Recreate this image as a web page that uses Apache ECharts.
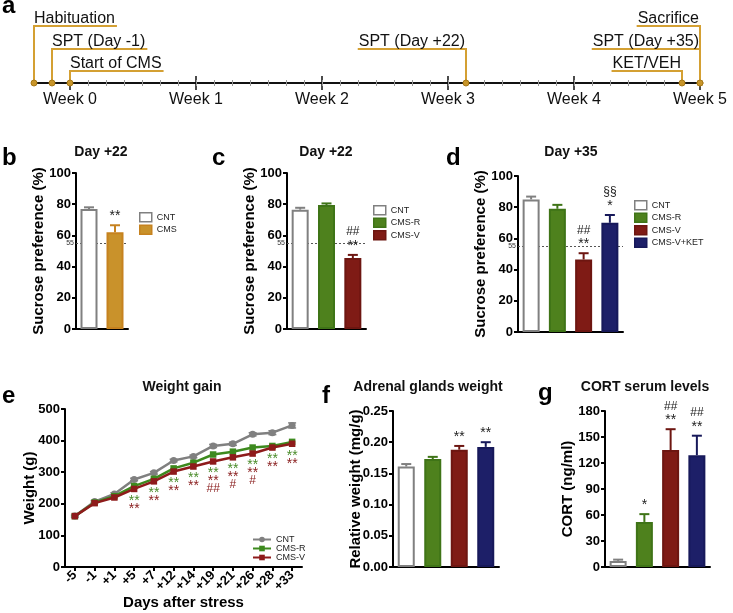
<!DOCTYPE html>
<html><head><meta charset="utf-8">
<script src="https://cdn.jsdelivr.net/npm/echarts@6/dist/echarts.min.js"></script>
<style>html,body{margin:0;padding:0;background:#fff}#c{width:733px;height:613px}</style>
</head><body><div id="c"></div>
<script>
// ---------------- data ----------------
const weekDays = [0, 7, 14, 21, 28, 35];
const weekLabels = ['Week 0', 'Week 1', 'Week 2', 'Week 3', 'Week 4', 'Week 5'];
const eventNames = ['Habituation', 'SPT (Day -1)', 'Start of CMS', 'SPT (Day +22)', 'Sacrifice', 'SPT (Day +35)', 'KET/VEH'];
const eventDays = [-2, -1, 0, 22, 35, 35, 34];
const eventLevels = [3, 2, 1, 2, 3, 2, 1];
const eventSides = ['right', 'right', 'right', 'left', 'left', 'left', 'left'];

const bCats = ['CNT', 'CMS'];
const bVals = [77, 62];
const bErr = [1, 4.5];
const bNotes = ['', '**'];

const cCats = ['CNT', 'CMS-R', 'CMS-V'];
const cVals = [76.5, 79.5, 45.5];
const cErr = [1.2, 1, 2];
const cNotes = ['', '', '##\n**'];

const dCats = ['CNT', 'CMS-R', 'CMS-V', 'CMS-V+KET'];
const dVals = [85, 79, 46.5, 70];
const dErr = [1.8, 2.5, 4, 5];
const dNotes = ['', '', '##\n**', '§§\n*'];

const eDays = ['-5', '-1', '+1', '+5', '+7', '+12', '+14', '+19', '+21', '+26', '+28', '+33'];
const eCNT = [161, 207, 231, 277, 298, 337, 350, 383, 390, 420, 425, 448];
const eCNTerr = [3, 3, 4, 4, 4, 4, 4, 5, 5, 5, 6, 8];
const eCMSR = [161, 204, 224, 256, 279, 312, 330, 356, 365, 378, 383, 396];
const eCMSV = [161, 202, 220, 247, 271, 302, 318, 334, 347, 359, 378, 390];
const eNoteR = ['', '', '', '**', '**', '**', '**', '**', '**', '**', '**', '**'];
const eNoteV = ['', '', '', '**', '**', '**', '**', '**', '**', '**', '**', '**'];
const eNoteH = ['', '', '', '', '', '', '', '##', '#', '#', '', ''];

const fCats = ['CNT', 'CMS-R', 'CMS-V', 'CMS-V+KET'];
const fVals = [0.161, 0.173, 0.188, 0.1925];
const fErr = [0.004, 0.0035, 0.006, 0.0075];
const fNotes = ['', '', '**', '**'];

const gCats = ['CNT', 'CMS-R', 'CMS-V', 'CMS-V+KET'];
const gVals = [7, 52, 135, 129];
const gErr = [1.5, 9, 24, 22.5];
const gNotes = ['', '*', '##\n**', '##\n**'];

// ---------------- styles ----------------
const FONT = '"Liberation Sans", Arial, Helvetica, sans-serif';
const GOLD = '#d4a033';
const STYLE = {
  'CNT': { fill: '#ffffff', border: '#808080' },
  'CMS': { fill: '#c9922b', border: '#c6821f' },
  'CMS-R': { fill: '#4e811d', border: '#3f7417' },
  'CMS-V': { fill: '#7f1b15', border: '#6d1611' },
  'CMS-V+KET': { fill: '#1d1f68', border: '#17195a' }
};
const LINE_COL = { 'CNT': '#808080', 'CMS-R': '#3d8a1e', 'CMS-V': '#8e1b1b' };
const NOTE_GREEN = '#4a8c2a', NOTE_RED = '#8b2121';
const ROW_OFF = { 1: 12, 2: 34, 3: 57 };
const TL_FONT = '16px ' + FONT;

const _ctx = document.createElement('canvas').getContext('2d');
function measure(t, f) { _ctx.font = f; return _ctx.measureText(t).width; }

// ---------------- timeline (a) ----------------
const grids = [{ left: 34, top: 26, width: 666, height: 57, outerBoundsMode: 'none' }];
const tlBase = { gridIndex: 0, type: 'value', min: -2, max: 35, position: 'bottom', splitLine: { show: false } };
const xAxes = [
  Object.assign({}, tlBase, {
    axisLine: { show: true, onZero: false, lineStyle: { color: '#111', width: 2 } },
    axisTick: { show: true, customValues: weekDays, length: 7, lineStyle: { color: '#111', width: 1.5 } },
    axisLabel: { show: true, customValues: weekDays, formatter: v => weekLabels[weekDays.indexOf(v)], fontSize: 16, color: '#111', margin: 9 }
  }),
  Object.assign({}, tlBase, {
    axisLine: { show: false, onZero: false },
    axisTick: { show: true, inside: true, customValues: weekDays, length: 7, lineStyle: { color: '#111', width: 1.5 } },
    axisLabel: { show: false }
  }),
  Object.assign({}, tlBase, {
    interval: 1,
    axisLine: { show: false, onZero: false },
    axisTick: { show: true, length: 3, lineStyle: { color: '#999', width: 1 } },
    axisLabel: { show: false }
  }),
  Object.assign({}, tlBase, {
    interval: 1,
    axisLine: { show: false, onZero: false },
    axisTick: { show: true, inside: true, length: 3, lineStyle: { color: '#999', width: 1 } },
    axisLabel: { show: false }
  })
];
const yAxes = [{ gridIndex: 0, type: 'value', min: 0, max: 1, show: false }];
const series = [{
  type: 'custom', xAxisIndex: 0, yAxisIndex: 0, silent: true, z: 5,
  data: eventDays.map((d, i) => [d, 0, i]),
  encode: { x: 0, y: 1 },
  renderItem: function (params, api) {
    const i = api.value(2);
    const p = api.coord([api.value(0), 0]);
    const yl = p[1] - ROW_OFF[eventLevels[i]];
    const w = measure(eventNames[i], TL_FONT) + 2;
    const right = eventSides[i] === 'right';
    const x0 = p[0], x1 = right ? x0 + w : x0 - w;
    return {
      type: 'group', children: [
        { type: 'polyline', shape: { points: [[x1, yl], [x0, yl], [x0, p[1]]] }, style: { stroke: GOLD, lineWidth: 2, fill: null } },
        { type: 'text', style: { text: eventNames[i], x: right ? x0 : x0 - 1, y: yl + 1, align: right ? 'left' : 'right', textAlign: right ? 'left' : 'right', verticalAlign: 'bottom', textVerticalAlign: 'bottom', font: TL_FONT, fill: '#111' } },
        { type: 'circle', shape: { cx: x0, cy: p[1], r: 3 }, style: { fill: '#c8952a', stroke: '#a87a18', lineWidth: 1 } }
      ]
    };
  }
}];

// ---------------- bar panels ----------------
function noteTexts(note, x, yBase, color) {
  const lines = note.split('\n').reverse();
  return lines.map((ln, idx) => {
    const isStar = ln.indexOf('*') >= 0;
    const y = yBase - idx * 11 + (isStar ? 3 : 0);
    return { type: 'text', style: { text: ln, x: x, y: y, align: 'center', textAlign: 'center', verticalAlign: 'middle', textVerticalAlign: 'middle', font: (isStar ? '14px ' : '12px ') + FONT, fill: color } };
  });
}
function makeErr(cats, notes, cap) {
  return function (params, api) {
    const k = api.value(0), v = api.value(1), e = api.value(2);
    const a = api.coord([k, v]), b = api.coord([k, v + e]);
    const col = STYLE[cats[k]].border;
    let ch = [
      { type: 'line', shape: { x1: a[0], y1: a[1], x2: b[0], y2: b[1] }, style: { stroke: col, lineWidth: 2 } },
      { type: 'line', shape: { x1: b[0] - cap, y1: b[1], x2: b[0] + cap, y2: b[1] }, style: { stroke: col, lineWidth: 2 } }
    ];
    if (notes[k]) ch = ch.concat(noteTexts(notes[k], b[0], b[1] - 12, '#222'));
    return { type: 'group', children: ch };
  };
}

const legends = [];
const panels = [
  { key: 'b', cats: bCats, vals: bVals, errs: bErr, notes: bNotes, grid: { left: 76, top: 173, width: 52, height: 156 }, max: 100, interval: 20, name: 'Sucrose preference (%)', ref: 55, legend: { left: 139, top: 212 }, dec: 0 },
  { key: 'c', cats: cCats, vals: cVals, errs: cErr, notes: cNotes, grid: { left: 287, top: 173, width: 79, height: 156 }, max: 100, interval: 20, name: 'Sucrose preference (%)', ref: 55, legend: { left: 373, top: 205 }, dec: 0 },
  { key: 'd', cats: dCats, vals: dVals, errs: dErr, notes: dNotes, grid: { left: 518, top: 176, width: 105, height: 156 }, max: 100, interval: 20, name: 'Sucrose preference (%)', ref: 55, legend: { left: 634, top: 200 }, dec: 0 },
  { key: 'f', cats: fCats, vals: fVals, errs: fErr, notes: fNotes, grid: { left: 393, top: 411, width: 106, height: 156 }, max: 0.25, interval: 0.05, name: 'Relative weight (mg/g)', ref: null, legend: null, dec: 2 },
  { key: 'g', cats: gCats, vals: gVals, errs: gErr, notes: gNotes, grid: { left: 605, top: 411, width: 105, height: 156 }, max: 180, interval: 30, name: 'CORT (ng/ml)', ref: null, legend: null, dec: 0 }
];

function yAxisFor(gi, max, interval, name, dec, nameGap) {
  return {
    gridIndex: gi, type: 'value', min: 0, max: max, interval: interval,
    axisLine: { show: true, lineStyle: { color: '#000', width: 2 } },
    axisTick: { show: true, length: 4, lineStyle: { color: '#000', width: 2 } },
    axisLabel: { fontFamily: FONT, fontWeight: 'bold', fontSize: 13, color: '#000', margin: 5, formatter: v => v.toFixed(dec) },
    splitLine: { show: false },
    name: name, nameLocation: 'middle', nameGap: nameGap, nameMoveOverlap: false,
    nameTextStyle: { fontFamily: FONT, fontWeight: 'bold', fontSize: 15, color: '#000' }
  };
}

panels.forEach(p => {
  const gi = grids.length;
  grids.push(Object.assign({ outerBoundsMode: 'none' }, p.grid));
  const xi = xAxes.length;
  xAxes.push({
    gridIndex: gi, type: 'category', data: p.cats,
    axisLine: { show: true, lineStyle: { color: '#000', width: 2 } },
    axisTick: { show: false }, axisLabel: { show: false }
  });
  const yi = yAxes.length;
  yAxes.push(yAxisFor(gi, p.max, p.interval, p.name, p.dec, 30));
  p.cats.forEach((c, j) => {
    series.push({
      type: 'bar', name: c + '_' + p.key, xAxisIndex: xi, yAxisIndex: yi, stack: 'st' + p.key,
      barWidth: 17, silent: true, z: 3,
      data: p.cats.map((cc, k) => k === j ? p.vals[j] : '-'),
      itemStyle: { color: STYLE[c].fill, borderColor: STYLE[c].border, borderWidth: 2 }
    });
  });
  series.push({
    type: 'custom', xAxisIndex: xi, yAxisIndex: yi, silent: true, z: 4,
    data: p.vals.map((v, k) => [k, v, p.errs[k]]), encode: { x: 0, y: 1 },
    renderItem: makeErr(p.cats, p.notes, 5)
  });
  if (p.ref != null) {
    series.push({
      type: 'line', xAxisIndex: xi, yAxisIndex: yi, data: [], silent: true, z: 1,
      markLine: {
        z: 1, silent: true, symbol: ['none', 'none'], animation: false,
        lineStyle: { color: '#555', width: 1, type: [2, 2] },
        label: { show: true, position: 'start', formatter: String(p.ref), fontSize: 7, color: '#333', distance: 2 },
        data: [{ yAxis: p.ref }]
      }
    });
  }
  if (p.legend) {
    legends.push({
      left: p.legend.left, top: p.legend.top, padding: 0, orient: 'vertical', icon: 'rect',
      itemWidth: 12, itemHeight: 9, itemGap: 2, selectedMode: false,
      textStyle: { fontFamily: FONT, fontSize: 9, color: '#222' },
      formatter: n => n.split('_')[0],
      data: p.cats.map(c => ({ name: c + '_' + p.key, itemStyle: { color: STYLE[c].fill, borderColor: STYLE[c].border, borderWidth: 1.5 } }))
    });
  }
});

// ---------------- weight panel (e) ----------------
(function () {
  const gi = grids.length;
  grids.push({ left: 65, top: 409, width: 237, height: 158, outerBoundsMode: 'none' });
  const xi = xAxes.length;
  xAxes.push({
    gridIndex: gi, type: 'category', data: eDays, boundaryGap: true,
    axisLine: { show: true, lineStyle: { color: '#000', width: 2 } },
    axisTick: { show: true, alignWithLabel: true, length: 4, lineStyle: { color: '#000', width: 2 } },
    axisLabel: { interval: 0, rotate: 45, fontFamily: FONT, fontWeight: 'bold', fontSize: 13, color: '#000', margin: 6 },
    name: 'Days after stress', nameLocation: 'middle', nameGap: 28, nameMoveOverlap: false,
    nameTextStyle: { fontFamily: FONT, fontWeight: 'bold', fontSize: 15, color: '#000' }
  });
  const yi = yAxes.length;
  yAxes.push(yAxisFor(gi, 500, 100, 'Weight (g)', 0, 28));
  const lines = [['CNT', eCNT, 'circle'], ['CMS-R', eCMSR, 'rect'], ['CMS-V', eCMSV, 'rect']];
  series.push({
    type: 'custom', xAxisIndex: xi, yAxisIndex: yi, silent: true, z: 2,
    data: eCNT.map((v, k) => [k, v, eCNTerr[k]]), encode: { x: 0, y: 1 },
    renderItem: function (params, api) {
      const k = api.value(0), v = api.value(1), e = api.value(2);
      const lo = api.coord([k, v - e]), hi = api.coord([k, v + e]);
      const col = LINE_COL['CNT'];
      return { type: 'group', children: [
        { type: 'line', shape: { x1: lo[0], y1: lo[1], x2: hi[0], y2: hi[1] }, style: { stroke: col, lineWidth: 1.5 } },
        { type: 'line', shape: { x1: hi[0] - 4, y1: hi[1], x2: hi[0] + 4, y2: hi[1] }, style: { stroke: col, lineWidth: 1.5 } },
        { type: 'line', shape: { x1: lo[0] - 4, y1: lo[1], x2: lo[0] + 4, y2: lo[1] }, style: { stroke: col, lineWidth: 1.5 } }
      ] };
    }
  });
  lines.forEach((l, idx) => {
    series.push({
      type: 'line', name: l[0] + '_e', xAxisIndex: xi, yAxisIndex: yi, data: l[1],
      symbol: l[2], symbolSize: l[2] === 'circle' ? 7 : 6.5, showSymbol: true, silent: true, z: 3 + idx,
      lineStyle: { color: LINE_COL[l[0]], width: 2.5 }, itemStyle: { color: LINE_COL[l[0]] }
    });
  });
  series.push({
    type: 'custom', xAxisIndex: xi, yAxisIndex: yi, silent: true, z: 8,
    data: eCMSV.map((v, k) => [k, v]), encode: { x: 0, y: 1 },
    renderItem: function (params, api) {
      const k = api.value(0);
      const p = api.coord([k, api.value(1)]);
      const rows = [[eNoteR[k], NOTE_GREEN, 12, 14], [eNoteV[k], NOTE_RED, 20, 14], [eNoteH[k], NOTE_RED, 27, 12]];
      const ch = [];
      rows.forEach(r => {
        if (r[0]) ch.push({ type: 'text', style: { text: r[0], x: p[0], y: p[1] + r[2], align: 'center', textAlign: 'center', verticalAlign: 'middle', textVerticalAlign: 'middle', font: r[3] + 'px ' + FONT, fill: r[1] } });
      });
      return { type: 'group', children: ch };
    }
  });
  legends.push({
    left: 252, top: 535, padding: 0, orient: 'vertical', itemWidth: 18, itemHeight: 7, itemGap: 0, selectedMode: false,
    textStyle: { fontFamily: FONT, fontSize: 9, color: '#222', lineHeight: 9 },
    formatter: n => n.split('_')[0],
    data: lines.map(l => l[0] + '_e')
  });
})();

// ---------------- titles & panel letters ----------------
const titles = [
  ['Day +22', 101, 152], ['Day +22', 326, 152], ['Day +35', 571, 152],
  ['Weight gain', 182, 387], ['Adrenal glands weight', 428, 387], ['CORT serum levels', 645, 387]
];
const letters = [['a', 2, 13], ['b', 2, 165], ['c', 212, 165], ['d', 446, 165], ['e', 2, 403], ['f', 322, 403], ['g', 538, 400]];
const graphic = [];
titles.forEach(t => graphic.push({ type: 'text', x: t[1], y: t[2], silent: true, style: { text: t[0], font: 'bold 14px ' + FONT, fill: '#111', align: 'center', textAlign: 'center', verticalAlign: 'middle', textVerticalAlign: 'middle' } }));
letters.forEach(t => graphic.push({ type: 'text', x: t[1], y: t[2] + 5, silent: true, style: { text: t[0], font: 'bold 24px ' + FONT, fill: '#000', align: 'left', textAlign: 'left', verticalAlign: 'bottom', textVerticalAlign: 'bottom' } }));

const chart = echarts.init(document.getElementById('c'));
chart.setOption({
  animation: false,
  backgroundColor: '#fff',
  textStyle: { fontFamily: FONT },
  grid: grids, xAxis: xAxes, yAxis: yAxes, series: series, legend: legends, graphic: graphic
});
</script></body></html>
